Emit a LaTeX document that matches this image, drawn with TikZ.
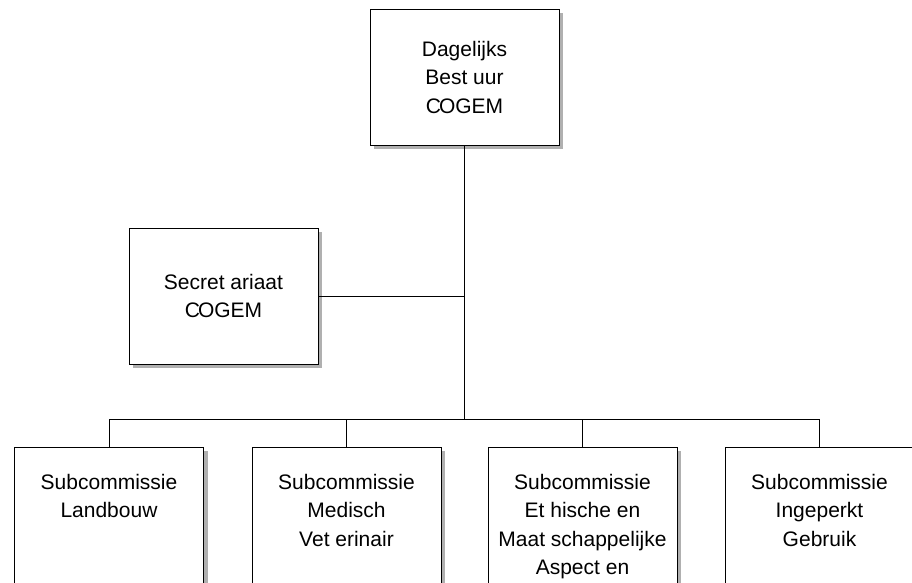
\documentclass[tikz,border=0pt]{standalone}
\usepackage{fontspec}
\setmainfont{Liberation Sans}
\usetikzlibrary{shadows}
\definecolor{shadowgray}{RGB}{176,176,176}
\begin{document}
\begin{tikzpicture}[x=1pt,y=-1pt,
  box/.style={draw=black, line width=0.9pt, fill=white, minimum width=189pt, minimum height=136pt, inner sep=0pt,
    general shadow={fill=shadowgray, shadow xshift=4pt, shadow yshift=-4pt}},
  lbl/.style={align=center, inner sep=0pt, font=\fontsize{21}{28.5}\selectfont},
  conn/.style={line width=0.9pt}]
\useasboundingbox (0,0) rectangle (912,582);
\clip (0,0) rectangle (912,582);
% boxes
\node[box] (dag) at (464.5,77) {};
\node[lbl] (dagt) at (dag.center) {Dagelijks\\Best uur\\C\kern-2ptOGEM};
\node[box] (sec) at (223.5,296) {};
\node[lbl] (sect) at (sec.center) {Secret ariaat\\C\kern-2ptOGEM};
\node[box] (b1) at (109,515) {};
\node[box] (b2) at (346.5,515) {};
\node[box] (b3) at (582.5,515) {};
\node[box] (b4) at (819.5,515) {};
\node[lbl, anchor=north] (b1t) at (109,474) {Subcommissie\\Landbouw};
\node[lbl, anchor=north] (b2t) at (346.5,474) {Subcommissie\\Medisch\\Vet erinair};
\node[lbl, anchor=north] (b3t) at (582.5,474) {Subcommissie\\Et hische en\\Maat schappelijke\\Aspect en};
\node[lbl, anchor=north] (b4t) at (819.5,474) {Subcommissie\\Ingeperkt\\Gebruik};
% connectors
\coordinate (bus) at (464.5,419);
\draw[conn] (dag.south) -- (bus);
\draw[conn] (sec.east) -- (sec.east -| dag.south);
\draw[conn] (b1.north) |- (bus) -| (b4.north);
\draw[conn] (b2.north) -- (b2.north |- bus);
\draw[conn] (b3.north) -- (b3.north |- bus);
\end{tikzpicture}
\end{document}
